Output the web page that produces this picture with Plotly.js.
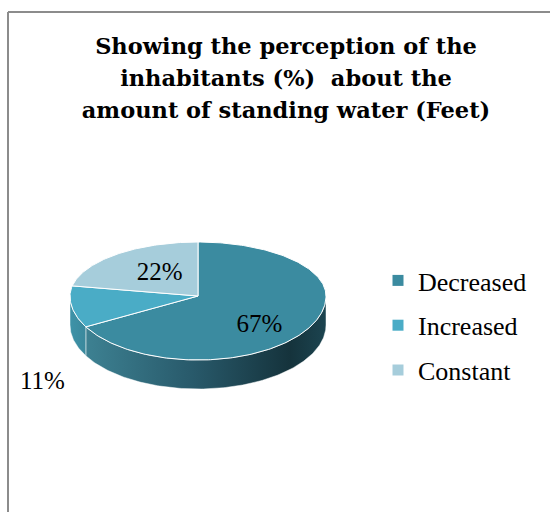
<!DOCTYPE html>
<html>
<head>
<meta charset="utf-8">
<script src="https://cdn.plot.ly/plotly-3.0.1.min.js"></script>
<style>html,body{margin:0;padding:0;background:#fff;}#chart{width:550px;height:512px;}</style>
</head>
<body>
<div id="chart"></div>
<script>
// ---- data ----
const categories = ["Decreased", "Increased", "Constant"];
const percentages = [67, 11, 22];
const titleLines = ["Showing the perception of the", "inhabitants (%)  about the", "amount of standing water (Feet)"];

// ---- style ----
const topColors = ["#3b8ba0", "#4aacc6", "#a6cddb"];
const sideScales = [
  [[0, "#3d8192"], [0.45, "#28596a"], [0.85, "#15333c"], [1, "#1c4450"]],
  [[0, "#3e93a8"], [1, "#3a889c"]],
  [[0, "#8fb9c6"], [1, "#8fb9c6"]]
];
const W = 550, H = 512;
const cx = 198, cy = 296, rx = 128, ryTop = 54, ryBot = 64, depth = 29;
const labelFont = {family: "Liberation Serif, Times New Roman, serif", size: 25, color: "#000"};

function pt(deg, r, dy) {
  const a = deg * Math.PI / 180;
  const s = Math.sin(a), c = Math.cos(a);
  const ry = c >= 0 ? ryTop : ryBot;
  return [cx + r * rx * s, cy - r * ry * c + (dy || 0)];
}

const total = percentages.reduce((a, b) => a + b, 0);
const traces = [];
const sideTraces = [];
const topTraces = [];
const labX = [], labY = [], labT = [];
let start = 0;
percentages.forEach((v, i) => {
  const a0 = start / total * 360;
  const a1 = (start + v) / total * 360;
  start += v;
  // side wall (front half: 90..270 degrees clockwise from top)
  const s = Math.max(a0, 90), e = Math.min(a1, 270);
  if (e > s) {
    const xs = [], ys = [];
    const n = Math.max(2, Math.ceil(e - s));
    for (let k = 0; k <= n; k++) { const p = pt(s + (e - s) * k / n, 1); xs.push(p[0]); ys.push(p[1]); }
    for (let k = n; k >= 0; k--) { const p = pt(s + (e - s) * k / n, 1, depth); xs.push(p[0]); ys.push(p[1]); }
    xs.push(xs[0]); ys.push(ys[0]);
    sideTraces.push({
      type: "scatter", mode: "lines", x: xs, y: ys, fill: "toself",
      fillgradient: {type: "horizontal", colorscale: sideScales[i]},
      line: {color: "rgba(255,255,255,0.6)", width: 0.8},
      showlegend: false, hoverinfo: "skip"
    });
  }
  // top face
  const tx = [cx], ty = [cy];
  const n = Math.max(2, Math.ceil(a1 - a0));
  for (let k = 0; k <= n; k++) { const p = pt(a0 + (a1 - a0) * k / n, 1); tx.push(p[0]); ty.push(p[1]); }
  tx.push(cx); ty.push(cy);
  topTraces.push({
    type: "scatter", mode: "lines", x: tx, y: ty, fill: "toself",
    fillcolor: topColors[i], line: {color: "#ffffff", width: 1},
    name: categories[i], showlegend: false, hoverinfo: "name"
  });
  // label
  const mid = (a0 + a1) / 2;
  const rad = mid * Math.PI / 180;
  if (v / total >= 0.15) {
    const ry = Math.cos(rad) >= 0 ? ryTop : ryBot;
    labX.push(cx + 0.52 * rx * Math.sin(rad) + 4);
    labY.push(cy - 0.7 * ry * Math.cos(rad) + 7);
  } else {
    labX.push(cx + 1.23 * rx * Math.sin(rad));
    labY.push(cy + ryBot + depth - 6);
  }
  labT.push(v + "%");
});

traces.push(...sideTraces, ...topTraces);
traces.push({
  type: "scatter", mode: "text", x: labX, y: labY, text: labT,
  textfont: labelFont, textposition: "middle center", showlegend: false, hoverinfo: "skip"
});
// legend entries
categories.forEach((c, i) => {
  traces.push({
    type: "scatter", mode: "markers", x: [null], y: [null], name: c,
    legendgroup: "g" + i,
    marker: {symbol: "square", size: 11, color: topColors[i]}
  });
});

const layout = {
  width: W, height: H,
  margin: {l: 0, r: 0, t: 0, b: 0},
  paper_bgcolor: "#ffffff", plot_bgcolor: "#ffffff",
  xaxis: {range: [0, W], visible: false, fixedrange: true},
  yaxis: {range: [H, 0], visible: false, fixedrange: true},
  title: {
    text: titleLines.map(t => '<span style="font-size:22.5px">' + t + '</span>').join("<br>"),
    font: {family: "DejaVu Serif, serif", size: 24.6, color: "#000", weight: "bold"},
    x: 286 / W, xanchor: "center", y: 1 - 54 / H, yanchor: "top"
  },
  legend: {
    x: 378 / W, xanchor: "left", y: 1 - 257 / H, yanchor: "top",
    font: {family: "Liberation Serif, Times New Roman, serif", size: 26, color: "#000"},
    tracegroupgap: 8, traceorder: "grouped", bgcolor: "rgba(0,0,0,0)"
  },
  shapes: [
    {type: "line", xref: "x", yref: "y", x0: 8, y0: 12, x1: W + 10, y1: 12, line: {color: "#8c8c8c", width: 2}},
    {type: "line", xref: "x", yref: "y", x0: 8, y0: 12, x1: 8, y1: H + 10, line: {color: "#8c8c8c", width: 2}}
  ],
  showlegend: true
};

Plotly.newPlot("chart", traces, layout, {displayModeBar: false, staticPlot: true});
</script>
</body>
</html>
